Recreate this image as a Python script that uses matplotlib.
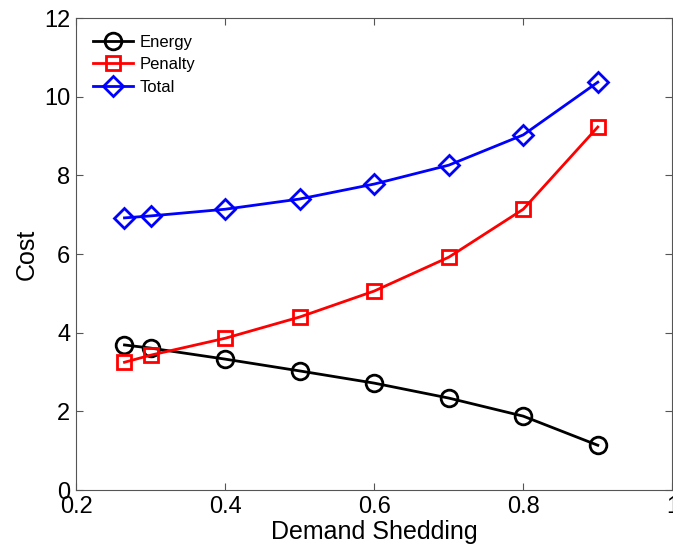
import matplotlib
matplotlib.use("Agg")
import matplotlib.pyplot as plt

plt.rcParams['font.family'] = ['Liberation Sans', 'DejaVu Sans']

x = [0.265, 0.3, 0.4, 0.5, 0.6, 0.7, 0.8, 0.9]
energy = [3.69, 3.61, 3.33, 3.03, 2.72, 2.34, 1.88, 1.14]
penalty = [3.25, 3.43, 3.86, 4.40, 5.06, 5.92, 7.14, 9.23]
total = [6.92, 6.97, 7.14, 7.40, 7.78, 8.26, 9.03, 10.37]
xticks = [0.2, 0.4, 0.6, 0.8, 1]
yticks = [0, 2, 4, 6, 8, 10, 12]

fig = plt.figure(figsize=(6.73, 5.47), dpi=100)
ax = fig.add_axes([0.113, 0.104, 0.886, 0.863])

kw = dict(lw=2.0, mew=2.0, mfc='none')
ax.plot(x, energy, color='black', marker='o', ms=12, label='Energy', **kw)
ax.plot(x, penalty, color='#ff0000', marker='s', ms=10, label='Penalty', **kw)
ax.plot(x, total, color='#0000ff', marker='D', ms=10, label='Total', **kw)

ax.set_xlim(0.2, 1)
ax.set_ylim(0, 12)
ax.set_xticks(xticks)
ax.set_xticklabels(['0.2', '0.4', '0.6', '0.8', '1'])
ax.set_yticks(yticks)
ax.tick_params(direction='in', top=True, right=True, labelsize=17, length=5,
               color='#555555', pad=4)
for s in ax.spines.values():
    s.set_color('#555555')
    s.set_linewidth(0.8)
ax.set_xlabel('Demand Shedding', fontsize=18, labelpad=2)
ax.set_ylabel('Cost', fontsize=18, labelpad=4)
ax.legend(loc='upper left', frameon=False, fontsize=12, handlelength=2.4,
          borderaxespad=0.6, labelspacing=0.45, handletextpad=0.4,
          borderpad=0.4)

fig.savefig('out.png', dpi=100)
